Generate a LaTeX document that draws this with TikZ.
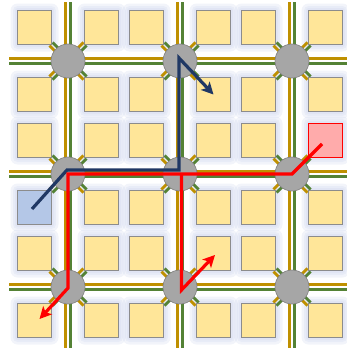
\documentclass[tikz,border=0pt]{standalone}
\usepackage{xcolor}
\usepackage{tikz}
\usetikzlibrary{arrows.meta,calc}
\definecolor{tileyel}{HTML}{FFE699}
\definecolor{tileedge}{HTML}{8C8C8C}
\definecolor{srcblue}{HTML}{B4C7E7}
\definecolor{dstred}{HTML}{FFABAB}
\definecolor{chgold}{HTML}{BF9000}
\definecolor{chgreen}{HTML}{548235}
\definecolor{swgray}{HTML}{A6A6A6}
\definecolor{swedge}{HTML}{7F7F7F}
\definecolor{glowblue}{HTML}{C5CEEA}
\definecolor{navyrt}{HTML}{203864}
\tikzset{
  tile/.style={rectangle, draw=tileedge, fill=tileyel, line width=0.8pt,
               minimum size=34pt, inner sep=0pt},
  srcblk/.style={tile, fill=srcblue},
  dstblk/.style={tile, fill=dstred, draw=red},
  sw/.style={circle, draw=swedge, fill=swgray, line width=0.6pt,
             minimum size=34pt, inner sep=0pt},
  glow/.style={fill=glowblue, fill opacity=0.22, draw=none},
  au/.style={draw=chgold, line width=3.4pt},
  ag/.style={draw=chgreen, line width=3.4pt},
  dau/.style={draw=chgold, line width=2.8pt},
  dag/.style={draw=chgreen, line width=2.8pt},
  rt/.style={line width=3.2pt, -{Stealth[length=12pt,width=12pt,inset=3pt]}},
}

\begin{document}
\begin{tikzpicture}[x=1pt, y=-1pt]
\useasboundingbox (0,0) rectangle (347,348);
\foreach \x in {34.5,101.5,146.5,213.5,258.5,325.5}
  \foreach \y in {27.5,94.5,140.5,207.5,253.5,320.5}
    \foreach \g in {7,4.5,2.5}
      \fill[glow, rounded corners=\g pt] (\x-17-\g,\y-17-\g) rectangle (\x+17+\g,\y+17+\g);
\foreach \x in {68,180,292} {
  \draw[au] (\x-2.3,2) -- (\x-2.3,348);
  \draw[ag] (\x+2.3,2) -- (\x+2.3,348);
}
\foreach \y in {61,174,287} {
  \draw[au] (9,\y-2.3) -- (347,\y-2.3);
  \draw[ag] (9,\y+2.3) -- (347,\y+2.3);
}
\foreach \x in {68,180,292}
  \foreach \y in {61,174,287} {
    \draw[dau] (\x-17-1.6,\y-17+1.6) -- (\x+17-1.6,\y+17+1.6);
    \draw[dag] (\x-17+1.6,\y-17-1.6) -- (\x+17+1.6,\y+17-1.6);
    \draw[dau] (\x+17-1.6,\y-17-1.6) -- (\x-17-1.6,\y+17-1.6);
    \draw[dag] (\x+17+1.6,\y-17+1.6) -- (\x-17+1.6,\y+17+1.6);
  }
\foreach \x [count=\c] in {34.5,101.5,146.5,213.5,258.5,325.5}
  \foreach \y [count=\r] in {27.5,94.5,140.5,207.5,253.5,320.5}
    \node[tile] (t-\c-\r) at (\x,\y) {};
\node[srcblk] (src) at (t-1-4) {};
\node[dstblk] (dst) at (t-6-3) {};
\foreach \x [count=\i] in {68,180,292}
  \foreach \y [count=\j] in {61,174,287}
    \node[sw] (s-\i-\j) at (\x,\y) {};
\draw[rt, navyrt] ([xshift=-2.5pt,yshift=-1.5pt]src.center)
  -- ([xshift=-1pt,yshift=4pt]s-1-2.center)
  -- ([xshift=-1pt,yshift=4pt]s-2-2.center)
  -- ([xshift=-1pt,yshift=3pt]s-2-1.center)
  -- (t-4-2.center);
\draw[rt, red] ([xshift=-3.5pt,yshift=-3.5pt]dst.center)
  -- (s-3-2.center)
  -- (s-1-2.center)
  -- ([yshift=-1pt]s-1-3.center)
  -- ([xshift=5pt,yshift=1.5pt]t-1-6.center);
\draw[rt, red] ([xshift=1.5pt]s-2-2.center)
  -- ([xshift=1.5pt,yshift=-3pt]s-2-3.center)
  -- ([xshift=1.5pt,yshift=-1.5pt]t-4-5.center);
\end{tikzpicture}
\end{document}
